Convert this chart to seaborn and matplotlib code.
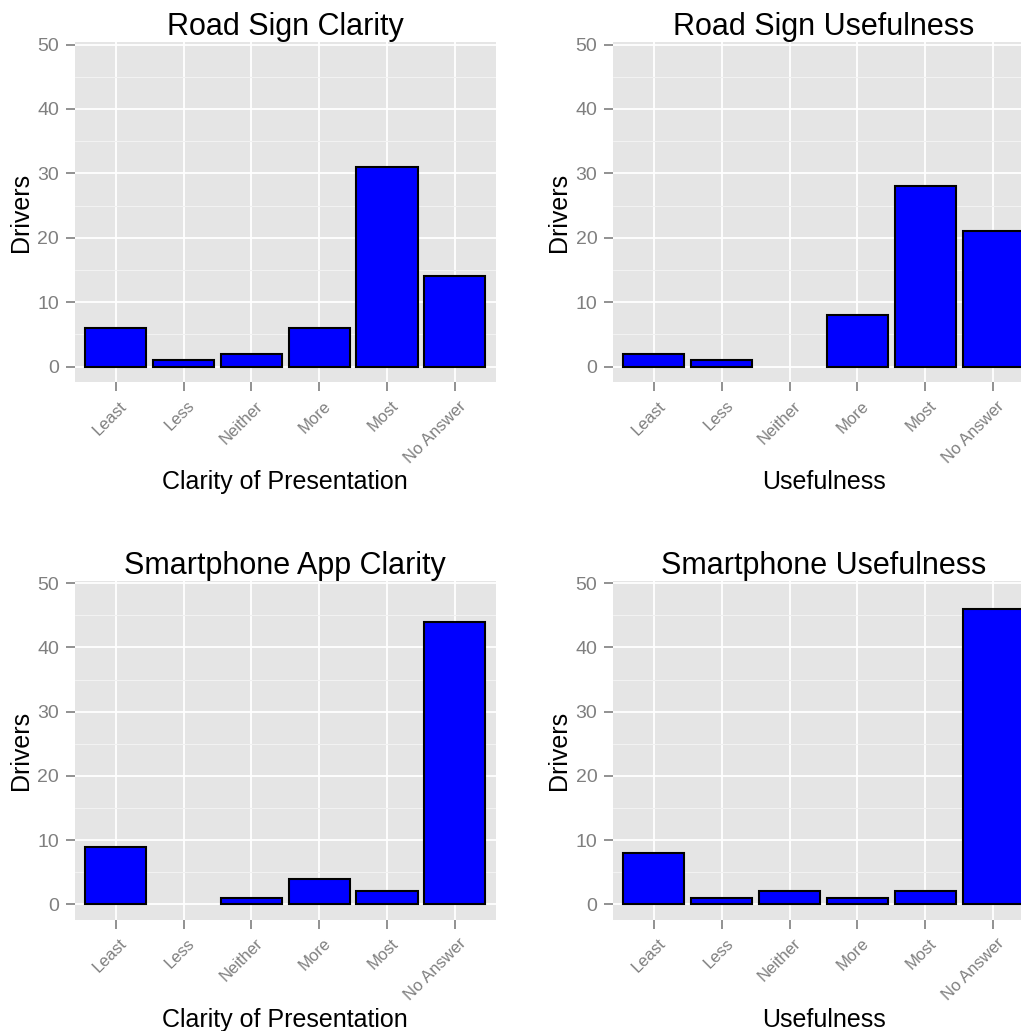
import matplotlib
matplotlib.use("Agg")
import matplotlib.pyplot as plt
import matplotlib.transforms as mtransforms
from matplotlib.ticker import MultipleLocator
import seaborn as sns
import pandas as pd

# ---- data ----
categories = ["Least", "Less", "Neither", "More", "Most", "No Answer"]
road_sign_clarity = [6, 1, 2, 6, 31, 14]
road_sign_usefulness = [2, 1, 0, 8, 28, 21]
smartphone_app_clarity = [9, 0, 1, 4, 2, 44]
smartphone_usefulness = [8, 1, 2, 1, 2, 46]
titles = ["Road Sign Clarity", "Road Sign Usefulness",
          "Smartphone App Clarity", "Smartphone Usefulness"]
xlabels = ["Clarity of Presentation", "Usefulness",
           "Clarity of Presentation", "Usefulness"]
ylabel = "Drivers"
yticks = [0, 10, 20, 30, 40, 50]

series = [road_sign_clarity, road_sign_usefulness,
          smartphone_app_clarity, smartphone_usefulness]

sns.set_style("darkgrid", {"axes.facecolor": "#E5E5E5", "grid.color": "white"})
plt.rcParams["font.family"] = ["Liberation Sans", "DejaVu Sans"]

W, H = 1021, 1031
fig = plt.figure(figsize=(W / 100, H / 100), dpi=100)
fig.patch.set_facecolor("white")


def pos(l, t, r, b):
    return [l / W, (H - b) / H, (r - l) / W, (b - t) / H]


boxes = [pos(75, 42, 495.5, 382), pos(613.3, 42, 1033.7, 382),
         pos(75, 580.7, 495.5, 919.7), pos(613.3, 580.7, 1033.7, 919.7)]

grey = "#7F7F7F"
for i in range(4):
    ax = fig.add_axes(boxes[i])
    df = pd.DataFrame({"cat": categories, "val": series[i]})
    sns.barplot(data=df, x="cat", y="val", order=categories, color="#0000FF",
                saturation=1, edgecolor="black", linewidth=1.5, width=0.9,
                ax=ax, zorder=3)
    for p in ax.patches:
        if p.get_height() == 0:
            p.set_visible(False)
    ax.set_xlim(-0.6, len(categories) - 0.4)
    ax.set_ylim(-2.4, 50.4)
    ax.set_yticks(yticks)
    ax.yaxis.set_minor_locator(MultipleLocator(5))
    ax.set_axisbelow(True)
    ax.grid(which="major", color="white", linewidth=1.3)
    ax.grid(which="minor", axis="y", color="#F2F2F2", linewidth=0.8)
    for s in ax.spines.values():
        s.set_visible(False)
    ax.tick_params(axis="both", which="major", length=6.5, width=1.2,
                   color=grey, labelcolor=grey, bottom=True, left=True)
    ax.tick_params(axis="both", which="minor", length=0)
    ax.tick_params(axis="y", labelsize=14, pad=5)
    ax.tick_params(axis="x", labelsize=12, pad=9)
    ax.set_xticks(range(len(categories)))
    ax.set_xticklabels(categories, rotation=45, ha="right", va="center",
                       rotation_mode="anchor")
    offset = mtransforms.ScaledTranslation(9 / 100, 0, fig.dpi_scale_trans)
    for lbl in ax.get_xticklabels():
        lbl.set_transform(lbl.get_transform() + offset)
    ax.set_title(titles[i], fontsize=22, pad=5, color="black")
    ax.set_xlabel(xlabels[i], fontsize=18, color="black")
    ax.set_ylabel(ylabel, fontsize=18, color="black")
    ax.xaxis.set_label_coords(0.5, -0.26)
    ax.yaxis.set_label_coords(-0.10, 0.5)

fig.savefig("out.png", dpi=100, facecolor="white")
